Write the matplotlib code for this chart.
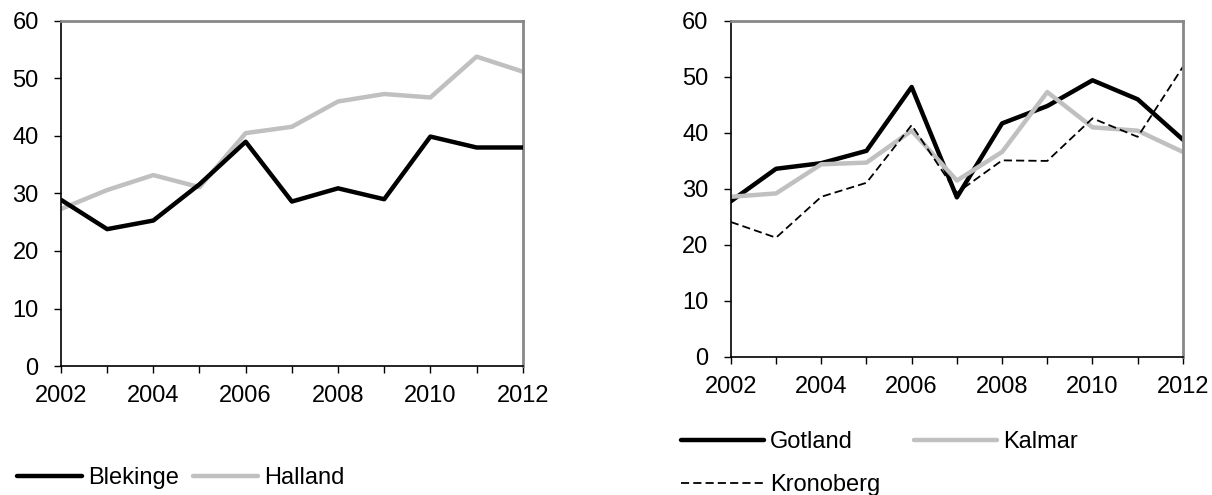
import matplotlib
matplotlib.use('Agg')
import matplotlib.pyplot as plt

plt.rcParams['font.family'] = ['Liberation Sans', 'DejaVu Sans']

years = list(range(2002, 2013))
tick_years = [2002, 2004, 2006, 2008, 2010, 2012]

# left panel
blekinge = [28.9, 23.8, 25.3, 31.6, 39.0, 28.6, 30.9, 29.0, 39.9, 38.0, 38.0]
halland = [27.3, 30.6, 33.2, 31.1, 40.5, 41.6, 46.0, 47.3, 46.7, 53.8, 51.2]

# right panel
gotland = [27.8, 33.6, 34.6, 36.8, 48.2, 28.5, 41.7, 44.8, 49.4, 46.0, 38.8]
kalmar = [28.6, 29.2, 34.4, 34.7, 40.4, 31.5, 36.6, 47.3, 41.0, 40.4, 36.6]
kronoberg = [24.1, 21.3, 28.6, 31.1, 41.4, 29.3, 35.1, 35.0, 42.6, 39.3, 51.8]

GRAY = '#c0c0c0'
FS = 17

fig = plt.figure(figsize=(12.12, 4.95), dpi=100)
ax1 = fig.add_axes([0.0503, 0.2606, 0.381, 0.697])
ax2 = fig.add_axes([0.603, 0.2788, 0.373, 0.679])


def style(ax):
    ax.set_xlim(2002, 2012)
    ax.set_ylim(0, 60)
    ax.set_xticks(years)
    ax.set_xticklabels([str(y) if y in tick_years else '' for y in years])
    ax.set_yticks(range(0, 61, 10))
    ax.tick_params(direction='out', length=5, width=1, labelsize=FS, colors='black')
    ax.tick_params(axis='x', pad=9)
    ax.tick_params(axis='y', pad=11)
    for s in ['left', 'bottom']:
        ax.spines[s].set_color('black')
        ax.spines[s].set_linewidth(1.2)
    for s in ['top', 'right']:
        ax.spines[s].set_color('#888888')
        ax.spines[s].set_linewidth(2)


l1, = ax1.plot(years, blekinge, color='black', lw=3.2, label='Blekinge', solid_capstyle='round', zorder=3)
l2, = ax1.plot(years, halland, color=GRAY, lw=3.2, label='Halland', solid_capstyle='round')
style(ax1)

r1, = ax2.plot(years, gotland, color='black', lw=3.2, label='Gotland', solid_capstyle='round')
r2, = ax2.plot(years, kalmar, color=GRAY, lw=3.2, label='Kalmar', solid_capstyle='round')
r3, = ax2.plot(years, kronoberg, color='black', lw=1.3, ls=(0, (4.5, 2.3)), label='Kronoberg')
style(ax2)

fig.legend(handles=[l1, l2], loc='center left', bbox_to_anchor=(0.014, 0.034), ncol=2,
           frameon=False, fontsize=FS, handlelength=2.75, handletextpad=0.25, columnspacing=0.6,
           borderpad=0, borderaxespad=0)
# column-major order so Gotland and Kalmar share the first row
fig.legend(handles=[r1, r3, r2], loc='center left', bbox_to_anchor=(0.562, 0.063), ncol=2,
           frameon=False, fontsize=FS, handlelength=3.5, handletextpad=0.25, columnspacing=1.45,
           labelspacing=0.9, borderpad=0, borderaxespad=0)

fig.savefig('out.png', dpi=100)
